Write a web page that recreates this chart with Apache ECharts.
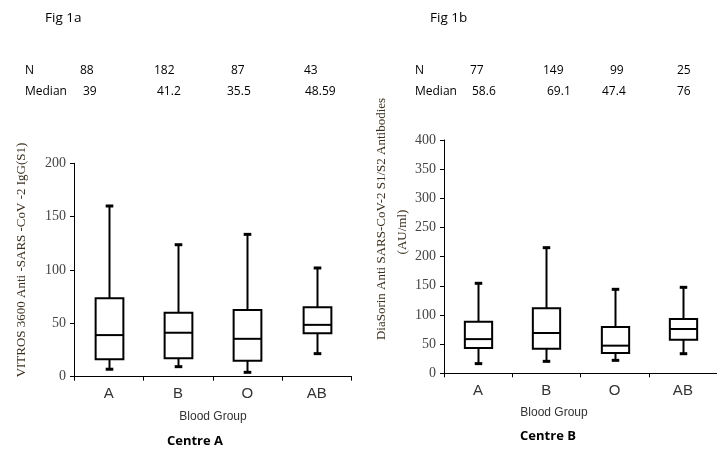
<!DOCTYPE html>
<html>
<head>
<meta charset="utf-8">
<script src="https://cdn.jsdelivr.net/npm/echarts@6/dist/echarts.min.js"></script>
<style>html,body{margin:0;padding:0;background:#fff}#c{width:717px;height:450px}</style>
</head>
<body>
<div id="c"></div>
<script>
// ---- data ----
const categories = ['A', 'B', 'O', 'AB'];
// [min, Q1, median, Q3, max]
const centreA = [
  [7, 16.3, 39, 73.5, 160],
  [9.4, 17.2, 41.2, 60, 123.7],
  [4.1, 15, 35.5, 62.5, 133.4],
  [21.6, 40.7, 48.59, 65, 101.9]
];
const centreB = [
  [16.6, 43.4, 58.6, 88.5, 154.3],
  [20.5, 42.3, 69.1, 111.4, 215.4],
  [22.2, 34.8, 47.4, 79.4, 144],
  [33.6, 57.6, 76, 93, 147.4]
];
const nA = ['88', '182', '87', '43'];
const medianA = ['39', '41.2', '35.5', '48.59'];
const nB = ['77', '149', '99', '25'];
const medianB = ['58.6', '69.1', '47.4', '76'];
const yTicksA = [0, 200, 50];
const yTicksB = [0, 400, 50];

// ---- layout ----
const sans = '"Open Sans", Lato, sans-serif';
const arial = '"Liberation Sans", Arial, sans-serif';
const serif = '"Liberation Serif", "Times New Roman", serif';
const colXA_N = [80, 154, 231, 304];
const colXA_M = [83, 157, 227, 305];
const colXB_N = [470, 543, 610, 677];
const colXB_M = [472, 547, 602, 677];

const chart = echarts.init(document.getElementById('c'), null, {renderer: 'canvas'});

function renderBox(params, api) {
  const i = api.value(0);
  const p = [1, 2, 3, 4, 5].map(d => api.coord([i, api.value(d)]));
  const band = api.size([1, 0])[0];
  const cx = Math.round(p[0][0]) + 0.5;
  const hw = band * 0.2;
  const cap = band * 0.055;
  const st = {stroke: '#000', lineWidth: 2, fill: null};
  return {
    type: 'group',
    children: [
      {type: 'line', shape: {x1: cx, y1: p[4][1], x2: cx, y2: p[3][1]}, style: st},
      {type: 'line', shape: {x1: cx, y1: p[1][1], x2: cx, y2: p[0][1]}, style: st},
      {type: 'line', shape: {x1: cx - cap, y1: p[4][1], x2: cx + cap, y2: p[4][1]}, style: {stroke: '#000', lineWidth: 3}},
      {type: 'line', shape: {x1: cx - cap, y1: p[0][1], x2: cx + cap, y2: p[0][1]}, style: {stroke: '#000', lineWidth: 3}},
      {type: 'rect', shape: {x: cx - hw, y: p[3][1], width: 2 * hw, height: p[1][1] - p[3][1]}, style: {stroke: '#000', lineWidth: 2, fill: '#fff'}},
      {type: 'line', shape: {x1: cx - hw, y1: p[2][1], x2: cx + hw, y2: p[2][1]}, style: st}
    ]
  };
}

function toData(arr) {
  return arr.map((r, i) => [i].concat(r));
}

function xAxisCfg(gi) {
  return {
    type: 'category', gridIndex: gi, data: categories, boundaryGap: true,
    axisLine: {lineStyle: {color: '#000', width: 1}},
    axisTick: {show: true, length: 4, lineStyle: {color: '#000'}},
    axisLabel: {fontFamily: arial, fontSize: 15, color: '#333', margin: 10},
    splitLine: {show: false}
  };
}
function yAxisCfg(gi, t) {
  return {
    type: 'value', gridIndex: gi, min: t[0], max: t[1], interval: t[2],
    axisLine: {show: true, lineStyle: {color: '#000', width: 1}},
    axisTick: {show: true, length: 4, lineStyle: {color: '#000'}},
    axisLabel: {fontFamily: serif, fontSize: 14, color: '#444', margin: 8},
    splitLine: {show: false}
  };
}

const graphics = [];
function txt(x, y, s, font, size, weight, align, rot, color) {
  graphics.push({
    type: 'text', x: x, y: y, rotation: rot || 0,
    style: {text: s, fontFamily: font, fontSize: size, fontWeight: weight || 'normal',
      fill: color || '#000', align: align || 'left', verticalAlign: 'middle'}
  });
}
txt(45, 18, 'Fig 1a', sans, 13.5);
txt(430, 18, 'Fig 1b', sans, 13.5);
txt(25, 71, 'N', sans, 12);
txt(25, 92, 'Median', sans, 12);
txt(415, 71, 'N', sans, 12);
txt(415, 92, 'Median', sans, 12);
nA.forEach((v, i) => txt(colXA_N[i], 71, v, sans, 12));
medianA.forEach((v, i) => txt(colXA_M[i], 92, v, sans, 12));
nB.forEach((v, i) => txt(colXB_N[i], 71, v, sans, 12));
medianB.forEach((v, i) => txt(colXB_M[i], 92, v, sans, 12));
txt(22, 260, 'VITROS 3600 Anti -SARS -CoV -2 IgG(S1)', serif, 13, 'normal', 'center', Math.PI / 2, '#3b3020');
txt(382, 219, 'DiaSorin Anti SARS-CoV-2 S1/S2 Antibodies', serif, 13, 'normal', 'center', Math.PI / 2, '#3b3020');
txt(403, 232, '(AU/ml)', serif, 13, 'normal', 'center', Math.PI / 2, '#3b3020');
txt(213, 417, 'Blood Group', arial, 12, 'normal', 'center', 0, '#333');
txt(554, 413, 'Blood Group', arial, 12, 'normal', 'center', 0, '#333');
txt(195, 441, 'Centre A', sans, 13, 'bold', 'center');
txt(548, 436, 'Centre B', sans, 13, 'bold', 'center');

chart.setOption({
  animation: false,
  backgroundColor: '#fff',
  grid: [
    {left: 74, top: 163.3, width: 277.5, height: 213.4},
    {left: 444, top: 140, width: 282, height: 233.3}
  ],
  xAxis: [xAxisCfg(0), xAxisCfg(1)],
  yAxis: [yAxisCfg(0, yTicksA), yAxisCfg(1, yTicksB)],
  series: [
    {type: 'custom', xAxisIndex: 0, yAxisIndex: 0, renderItem: renderBox,
      encode: {x: 0, y: [1, 2, 3, 4, 5]}, data: toData(centreA)},
    {type: 'custom', xAxisIndex: 1, yAxisIndex: 1, renderItem: renderBox,
      encode: {x: 0, y: [1, 2, 3, 4, 5]}, data: toData(centreB)}
  ],
  graphic: graphics
});
</script>
</body>
</html>
